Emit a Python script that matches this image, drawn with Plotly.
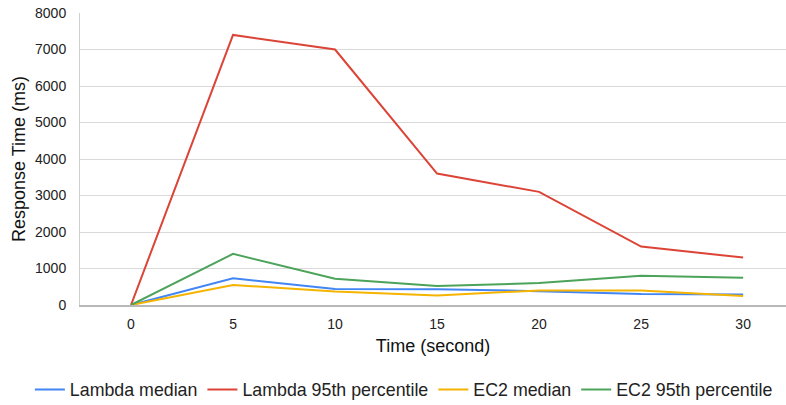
import plotly.graph_objects as go

time_labels = ["0", "5", "10", "15", "20", "25", "30"]
time_values = [0, 5, 10, 15, 20, 25, 30]
lambda_median = [0, 730, 440, 430, 380, 300, 290]
lambda_p95 = [0, 7400, 7000, 3600, 3100, 1600, 1300]
ec2_median = [0, 550, 370, 260, 400, 400, 250]
ec2_p95 = [0, 1400, 720, 520, 600, 800, 750]

series = [
    ("Lambda median", lambda_median, "#4285F4"),
    ("Lambda 95th percentile", lambda_p95, "#DB4437"),
    ("EC2 median", ec2_median, "#F4B400"),
    ("EC2 95th percentile", ec2_p95, "#4CA35A"),
]

fig = go.Figure()
for name, vals, color in series:
    fig.add_trace(go.Scatter(x=time_values, y=vals, mode="lines", name=name,
                             line=dict(color=color, width=2)))

font = "Liberation Sans, Arial, sans-serif"
fig.update_layout(
    width=786, height=405,
    margin=dict(l=80, r=0, t=13, b=100, autoexpand=False),
    paper_bgcolor="white", plot_bgcolor="white",
    font=dict(family=font, size=14, color="#222222"),
    showlegend=True,
    legend=dict(orientation="h", x=-0.071, xanchor="left",
                y=-0.291, yanchor="middle",
                font=dict(size=17.8, color="#222222"),
                itemwidth=30, tracegroupgap=0, bgcolor="rgba(0,0,0,0)"),
    xaxis=dict(range=[-2.5, 32.1], tickvals=time_values, ticktext=time_labels,
               showgrid=False, zeroline=False, showline=True, linecolor="#b8b8b8",
               linewidth=1.5, ticks="", ticklabelstandoff=5, automargin=False,
               tickfont=dict(size=14, color="#222222"),
               title=dict(text="Time (second)", font=dict(size=18, color="#111111"), standoff=9)),
    yaxis=dict(range=[0, 8000], dtick=1000, showgrid=True, gridcolor="#d9d9d9",
               zeroline=False, showline=True, linecolor="#d0d0d0", linewidth=1,
               ticks="", ticklabelstandoff=10, automargin=False,
               tickfont=dict(size=14, color="#222222"),
               title=dict(text="Response Time (ms)", font=dict(size=18, color="#111111"), standoff=4)),
)

# remove the browser's default 8px body margin so the figure sits at the page origin
fig.write_html("out.html", config={"displayModeBar": False},
               post_script="document.body.style.margin='0';")
